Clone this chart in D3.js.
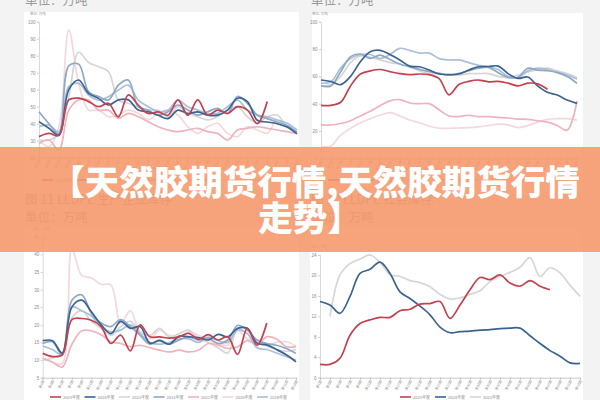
<!DOCTYPE html>
<html><head><meta charset="utf-8">
<script src="https://cdn.jsdelivr.net/npm/d3@7"></script>
<style>html,body{margin:0;padding:0;background:#f3f3f3;overflow:hidden}svg{display:block}</style>
</head><body><svg id="c" width="600" height="400"></svg>
<script>
// ---------- data ----------
const weekLabels = d3.range(27).map(i => `第${2 * i + 1}周`);
const years = ["2025年度", "2024年度", "2023年度", "2022年度", "2021年度", "2020年度", "2019年度"];

const tlTicks = [20, 30, 40, 50, 60, 70, 80, 90, 100];
const trTicks = [0, 20, 40, 60, 80, 100];
const blTicks = [5, 10, 15, 20, 25, 30, 35, 40, 45];
const brTicks = [0, 4, 8, 12, 16, 20, 24];

// top-left chart
const tl2025 = [32.4,34.3,33,54,55,53,50,52,44,57,51,46,47,45,54,45,54,45,48,46,50,48,40,53,null,null,null];
const tl2024 = [41.2,37.3,33.3,60,65.7,57.8,54.9,51,54,54,48,47,45,43,48,46,47,45,45,48,55,53,42,41,40,38,34];
const tl2023 = [30.4,30.4,34.3,55.9,82,76,73.5,70.6,53.9,52,50,48,48,44.1,50,46.1,44.1,42.2,44.1,48,50,44.1,40.2,44.1,45.1,38.2,35.3];
const tl2022 = [47,40,34,74,75,58.8,56,54,62.7,65.7,50,48,45,47,51,48,45,47,49,46,56,52,45,43,41,39,35];
const tl2021 = [28.4,30.4,24.5,48,53.9,53.9,48,48,43.1,46.1,44.1,41.2,38.2,36.3,35.3,36.3,37.3,35.3,34.3,30.4,36.3,37.3,38.2,37.3,36.3,35.3,34.3];
const tl2020 = [30.4,26.5,38.2,95.1,63.7,48,48,44.1,45.1,48,46.1,42.2,46.1,48,45.1,38.2,34.3,38.2,40.2,34.3,32.4,38.2,36.3,34.3,42.2,38.2,34.3];
const tl2019 = [38.2,39.2,35.3,61.8,63.7,56.9,53.9,55.9,59.8,62.7,53.9,50,47.1,48,53.9,50,48,46.1,46.1,50,53.9,48,45.1,44.1,42.2,40.2,36.3];

// top-right chart
const tr2025 = [38.8,38.8,41,53,61.7,64,65,63.4,62,61.2,61.7,61.2,58.3,46.5,54,56.3,57.3,56,56.3,55,53,55,54.5,50.5,null,null,null];
const tr2024 = [57.3,56.2,53.9,60,70.7,78,79,76,72,67.5,67,64.6,61.7,61.2,61.7,64.6,67,67.2,67.5,62,58.5,59.5,53,48.3,46.3,42.7,40.2];
const tr2023 = [53,54,60,70,75,74,72,70,69,67,64,62,62,61,61,62,62,62,60,59,61,63,65,66,64,62,59];
const tr2022 = [53,53,63.4,74.4,76.3,73.2,75.6,72.4,69,67,65.1,63.4,62.2,61,62.2,64.1,65.9,66.6,62.7,59.3,59.3,65.9,64.6,64.1,62.7,59.8,54.9];
const tr2021 = [24.4,24.4,25.5,27.5,31,34.5,38.5,42,43,40.5,40,40,35.5,31,30.5,31.5,30.5,30.5,30,29.5,28.7,28.5,27.5,26.5,24,20.5,42];
const tr2020 = [8.5,9,17,22,26,29,31.5,33.5,31,28,26,23.5,22,22,22.2,22.4,23,24,25,24.5,22.5,24,26.5,28.5,29,29,28];
const tr2019 = [55,56,66,73,76,76,73,76,80.5,79,77,77,73,72,72,70,68,67,65,60,59,64,66,65,63,61,58];

// bottom-left chart
const bl2025 = [11.9,11,11.5,21.5,21.8,21.3,19.5,14.7,17.1,12.6,20,16.6,16.6,16.2,16.6,17.6,15.9,17.2,15.7,16.6,11.6,19,14.2,20.5,null,null,null];
const bl2024 = [15.5,15.5,12,25.1,27,23.7,20,17.5,21,19,19.5,14.8,15.5,14.5,16.8,16.6,16.4,15.7,17.3,16.6,19,19,14.8,14.3,13,11.5,9.5];
const bl2023 = [10,10.5,12,22,24,21,19,17,19.5,21,18,17,19,16.5,17.5,18.5,16,15,13.5,12,19,17.5,15,14,13,12.5,13];
const bl2022 = [14.7,15.2,11.5,27,28.5,23.3,20.5,19.5,21.5,19.5,17,14.5,15.7,14.5,15.7,16.6,15.7,16.2,14.7,15.7,19.8,18.5,15.7,14.7,14.2,13.3,11.9];
const bl2021 = [10.5,9.4,8,14.5,18.3,18.3,17.2,15.2,14.7,13.8,14.2,13.5,12.8,12.3,12.8,12.3,12.8,14.7,14.2,13.3,13.8,15.5,14.5,16.6,16,13.8,13.8];
const bl2020 = [10.5,9.4,9,41.5,34,33.3,31.5,31.3,20.4,24,17.5,16,18.5,17,16.5,18,17,15.7,14.7,14.2,18.5,16,15.7,14.2,15,15.2,14];
const bl2019 = [14,13,11.5,25,24,22.5,19.5,18,18.5,20,17.5,15,14.5,15,16,16,15,16.5,15.5,15,18.5,17.5,13.5,13,12,11,10];

// bottom-right chart
const br2025 = [2.6,2.6,3.8,8.3,10.6,11.3,11.8,11.8,13.1,13.4,14.4,14.5,14.9,11.6,14.2,17.2,19.6,19.2,20.1,18.5,17.9,19.0,17.9,17.2,null,null,null];
const br2024 = [14.9,14.2,12.6,15.9,20.4,21.2,22.6,20.4,16.8,15.5,14.0,12.3,9.9,8.8,9.0,9.1,9.3,9.4,9.6,9.7,9.7,8.2,6.7,5.3,4.2,2.9,2.8];
const br2023 = [null,12,20.1,22.3,23.2,24.0,22.5,20.2,19.8,19.0,18.6,17.8,16.3,15.4,15.6,16.3,17.0,18.8,19.8,20.6,21.6,23.5,19.8,21.5,20.5,18.1,15.9];

// ---------- styles ----------
const colors = {"2025年度":"#c2434f","2024年度":"#3b6391","2023年度":"#d6d6d6","2022年度":"#8fa8c6","2021年度":"#efb3bd","2020年度":"#f3d8dd","2019年度":"#aabfd8"};
const drawOrder = ["2020年度","2023年度","2021年度","2019年度","2022年度","2024年度","2025年度"];

const svg = d3.select("#c");
svg.append("rect").attr("width",600).attr("height",400).attr("fill","#f3f3f3");

const panels = [[24,12,275,182],[312,13,271,181],[24,226,275,174],[310,226,273,174]];
svg.selectAll("rect.panel").data(panels).join("rect").attr("class","panel")
  .attr("x",d=>d[0]).attr("y",d=>d[1]).attr("width",d=>d[2]).attr("height",d=>d[3]).attr("fill","#ffffff");

const capFont = "'Noto Sans CJK SC', sans-serif";
function caption(x, y, t, size) {
  svg.append("text").attr("x",x).attr("y",y).text(t).attr("font-family",capFont)
    .attr("font-size",size).attr("fill","#9a9a9a");
}
caption(25, 5, "单位：万吨", 12.5);
caption(311, 5, "单位：万吨", 12.5);
caption(25, 204, "图 11 LLDPE 生产企业库存", 12.5);
caption(25, 222, "单位：万吨", 12.5);
caption(311, 204, "图 12 LLDPE 社会库存", 12.5);
caption(311, 222, "单位：万吨", 12.5);

function drawChart(cfg) {
  const g = svg.append("g");
  const x = d3.scalePoint().domain(weekLabels).range([cfg.x0, cfg.x1]);
  const y = d3.scaleLinear().domain(cfg.domain).range([cfg.yBottom, cfg.yTop]);
  const ya = d3.axisLeft(y).tickValues(cfg.ticks).tickSize(2).tickPadding(1.5);
  g.append("g").attr("transform",`translate(${cfg.x0},0)`).call(ya).call(s => {
    s.select(".domain").attr("stroke","#cfcfcf").attr("stroke-width",0.8);
    s.selectAll(".tick line").attr("stroke","#cfcfcf");
    s.selectAll("text").attr("font-size",4.5).attr("fill","#8c8c8c").attr("font-family","Liberation Sans");
  });
  const xa = d3.axisBottom(x).tickSize(2);
  g.append("g").attr("transform",`translate(0,${cfg.yBottom})`).call(xa).call(s => {
    s.select(".domain").attr("stroke","#bdbdbd").attr("stroke-width",0.8);
    s.selectAll(".tick line").attr("stroke","#bdbdbd");
    s.selectAll("text").attr("font-size",3.4).attr("fill","#8c8c8c").attr("font-family",capFont)
      .attr("x",0).attr("y",0).attr("dy",0).attr("text-anchor","end")
      .attr("transform","translate(1.5,3.5) rotate(-62)");
  });
  g.append("text").attr("x",cfg.x0 - 9).attr("y",cfg.yTop - 7).text("单位: 万吨")
    .attr("font-size",3.5).attr("fill","#999").attr("font-family",capFont);
  const line = d3.line().defined(d => d != null).x((d,i) => x(weekLabels[i])).y(d => y(d)).curve(d3.curveCatmullRom);
  const ser = drawOrder.filter(k => cfg.series[k]);
  g.selectAll("path.s").data(ser).join("path").attr("class","s")
    .attr("d", k => line(cfg.series[k])).attr("fill","none")
    .attr("stroke", k => colors[k]).attr("stroke-width",1.7).attr("stroke-linejoin","round");
  const leg = years.filter(k => cfg.series[k]);
  const lg = g.selectAll("g.leg").data(leg).join("g").attr("class","leg")
    .attr("transform",(k,i) => `translate(${cfg.legX + i * cfg.legStep},${cfg.legY})`);
  lg.append("line").attr("x1",0).attr("x2",11).attr("stroke",k => colors[k]).attr("stroke-width",1.6);
  lg.append("text").attr("x",13).attr("y",1.5).text(k => k).attr("font-size",4).attr("fill","#8c8c8c").attr("font-family",capFont);
}

drawChart({x0:39,x1:297,yTop:21.7,yBottom:157.7,domain:[20,100],ticks:tlTicks,legX:42,legStep:35,legY:180,
  series:{"2025年度":tl2025,"2024年度":tl2024,"2023年度":tl2023,"2022年度":tl2022,"2021年度":tl2021,"2020年度":tl2020,"2019年度":tl2019}});
drawChart({x0:321,x1:577,yTop:21.7,yBottom:158.3,domain:[0,100],ticks:trTicks,legX:328,legStep:35,legY:180,
  series:{"2025年度":tr2025,"2024年度":tr2024,"2023年度":tr2023,"2022年度":tr2022,"2021年度":tr2021,"2020年度":tr2020,"2019年度":tr2019}});
drawChart({x0:42.7,x1:296,yTop:236.7,yBottom:377.7,domain:[5,45],ticks:blTicks,legX:50,legStep:34.5,legY:397,
  series:{"2025年度":bl2025,"2024年度":bl2024,"2023年度":bl2023,"2022年度":bl2022,"2021年度":bl2021,"2020年度":bl2020,"2019年度":bl2019}});
drawChart({x0:320,x1:580,yTop:255,yBottom:377.7,domain:[0,24],ticks:brTicks,legX:400,legStep:35,legY:397,
  series:{"2025年度":br2025,"2024年度":br2024,"2023年度":br2023}});

// banner overlay
svg.append("rect").attr("x",0).attr("y",147).attr("width",600).attr("height",105)
  .attr("fill","#f6976a").attr("opacity",0.88);
const tf = "'Noto Sans CJK SC', sans-serif";
svg.append("text").attr("x",315).attr("y",195).attr("text-anchor","middle").text("【天然胶期货行情,天然胶期货行情")
  .attr("font-family",tf).attr("font-weight",900).attr("font-size",34.5).attr("fill","#ffffff");
svg.append("text").attr("x",310).attr("y",231).attr("text-anchor","middle").text("走势】")
  .attr("font-family",tf).attr("font-weight",900).attr("font-size",34.5).attr("fill","#ffffff");
</script></body></html>
